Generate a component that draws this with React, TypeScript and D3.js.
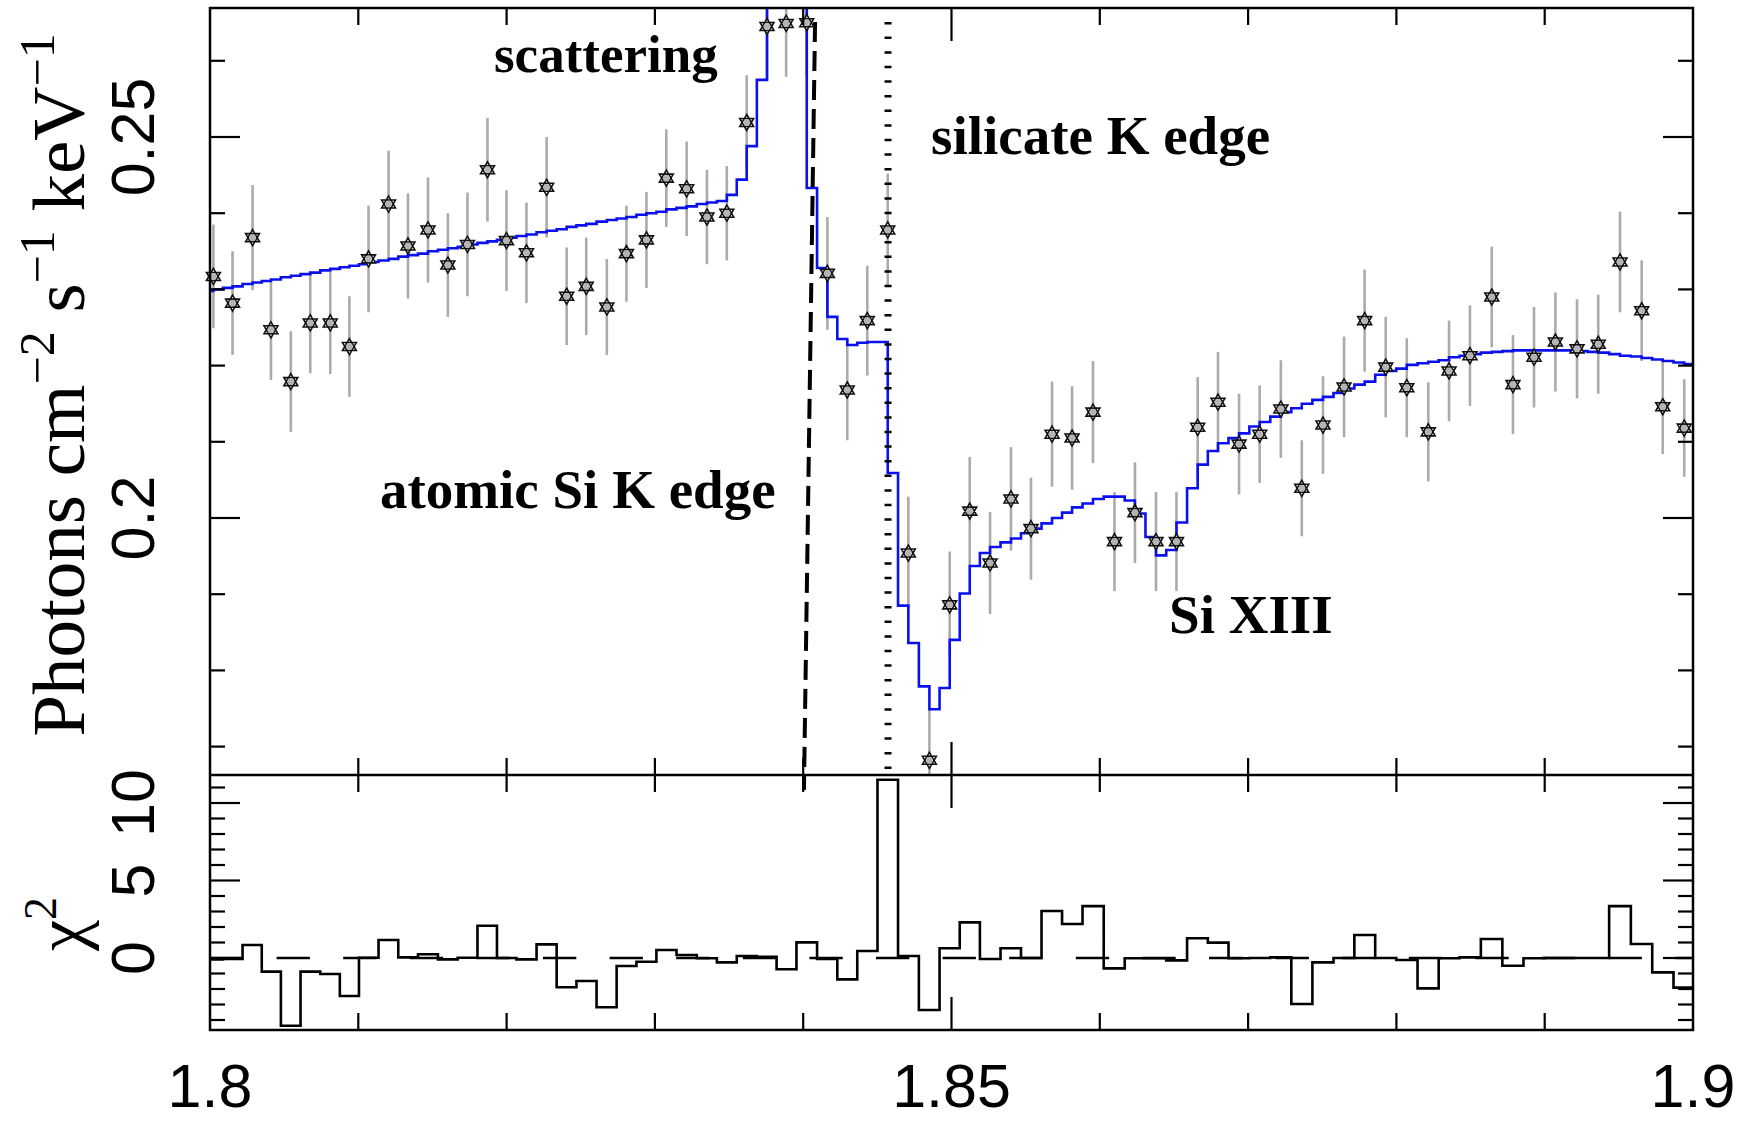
import React from "react";
import * as d3 from "d3";

// ---------- data ----------
const energy = [
  1.80023, 1.80152, 1.80287, 1.80411, 1.80545, 1.80676, 1.80811, 1.8094, 1.81069, 1.81204,
  1.81335, 1.8147, 1.81604, 1.81736, 1.81871, 1.81999, 1.82134, 1.8227, 1.82405, 1.82537,
  1.82676, 1.82808, 1.82943, 1.83077, 1.83214, 1.83351, 1.83485, 1.83619, 1.83756, 1.83885,
  1.84024, 1.84163, 1.84297, 1.84432, 1.8457, 1.84709, 1.84851, 1.84988, 1.85123, 1.8526,
  1.85401, 1.85536, 1.85678, 1.85813, 1.85954, 1.86099, 1.86237, 1.86379, 1.86517, 1.8666,
  1.86797, 1.86939, 1.87078, 1.87221, 1.87362, 1.87505, 1.87647, 1.87786, 1.87928, 1.8807,
  1.88215, 1.88355, 1.88496, 1.88643, 1.88786, 1.88928, 1.89072, 1.89218, 1.89361, 1.89508,
  1.89654, 1.89796, 1.89941,
];

const flux = [
  0.2317, 0.2282, 0.2368, 0.2247, 0.2179, 0.2256, 0.2256, 0.2225, 0.234, 0.2412,
  0.2357, 0.2378, 0.2332, 0.2359, 0.2457, 0.2364, 0.2348, 0.2434, 0.2291, 0.2304,
  0.2277, 0.2347, 0.2365, 0.2446, 0.2432, 0.2395, 0.24, 0.2519, 0.2645, 0.2649,
  0.265, 0.2321, 0.2168, 0.2259, 0.2378, 0.1954, 0.1682, 0.1886, 0.2009, 0.1941,
  0.2025, 0.1986, 0.211, 0.2105, 0.2139, 0.1969, 0.2007, 0.1969, 0.1969, 0.2119,
  0.2152, 0.2097, 0.211, 0.2143, 0.2039, 0.2122, 0.2172, 0.2259, 0.2198, 0.2171,
  0.2113, 0.2193, 0.2213, 0.229, 0.2175, 0.2211, 0.2231, 0.2222, 0.2228, 0.2336,
  0.2272, 0.2146, 0.2118,
];

const fluxErr = [
  0.0068, 0.0068, 0.0069, 0.0066, 0.0066, 0.0066, 0.0067, 0.0066, 0.007, 0.007,
  0.0069, 0.0069, 0.0068, 0.0068, 0.0068, 0.0066, 0.0066, 0.0066, 0.0064, 0.0064,
  0.0063, 0.0063, 0.0063, 0.0064, 0.0062, 0.0062, 0.0062, 0.0062, 0.007, 0.007,
  0.007, 0.0074, 0.0066, 0.0072, 0.0074, 0.0074, 0.0068, 0.007, 0.0071, 0.0067,
  0.0068, 0.0067, 0.0069, 0.0068, 0.0067, 0.0065, 0.0066, 0.0065, 0.0065, 0.0066,
  0.0066, 0.0066, 0.0064, 0.0064, 0.0063, 0.0064, 0.0066, 0.0067, 0.0066, 0.0065,
  0.0065, 0.0066, 0.0066, 0.0066, 0.0065, 0.0066, 0.0065, 0.0065, 0.0065, 0.0066,
  0.0066, 0.0062, 0.0064,
];

// model value in the lower / upper half of each data bin
const modelLo = [
  0.2298, 0.2302, 0.2307, 0.2311, 0.2316, 0.232, 0.2325, 0.2329, 0.2333, 0.2338,
  0.2343, 0.2347, 0.2352, 0.2356, 0.2361, 0.2365, 0.237, 0.2375, 0.2379, 0.2384,
  0.2389, 0.2393, 0.2398, 0.2402, 0.2407, 0.2412, 0.2416, 0.2444, 0.2575, 0.29,
  0.285, 0.2328, 0.2235, 0.223, 0.2231, 0.1885, 0.1779, 0.1777, 0.1901, 0.1954,
  0.1968, 0.198, 0.1993, 0.2007, 0.2019, 0.2028, 0.2023, 0.1975, 0.1958, 0.2039,
  0.2088, 0.2105, 0.212, 0.2133, 0.2144, 0.2155, 0.2164, 0.2175, 0.2188, 0.2196,
  0.2203, 0.2207, 0.2213, 0.2217, 0.2219, 0.222, 0.222, 0.222, 0.2218, 0.2215,
  0.2212, 0.2208, 0.2204,
];
const modelHi = [
  0.23, 0.2304, 0.2309, 0.2313, 0.2318, 0.2322, 0.2327, 0.2331, 0.2336, 0.234,
  0.2345, 0.235, 0.2354, 0.2359, 0.2363, 0.2368, 0.2372, 0.2377, 0.2382, 0.2386,
  0.2391, 0.2395, 0.24, 0.2405, 0.2409, 0.2414, 0.2424, 0.2488, 0.285, 0.29,
  0.2433, 0.2264, 0.2227, 0.2231, 0.2059, 0.1836, 0.1749, 0.184, 0.1937, 0.1962,
  0.1973, 0.1986, 0.2, 0.2014, 0.2025, 0.2028, 0.2006, 0.1951, 0.1994, 0.207,
  0.2098, 0.2111, 0.2126, 0.2139, 0.215, 0.2159, 0.217, 0.2179, 0.2193, 0.2201,
  0.2205, 0.2211, 0.2215, 0.2218, 0.222, 0.222, 0.222, 0.2219, 0.2217, 0.2213,
  0.221, 0.2206, 0.2202,
];

// signed chi^2 residual per bin
const chi = [
  -0.1, -0.06, 0.84, -0.88, -4.37, -0.88, -1.03, -2.45, 0.02, 1.16,
  0.04, 0.24, -0.09, 0.02, 2.08, 0.0, -0.09, 0.88, -1.89, -1.48,
  -3.18, -0.52, -0.24, 0.52, 0.19, -0.02, -0.28, 0.13, 0.08, -0.73,
  1.01, -0.06, -1.38, 0.45, 11.5, 0.13, -3.35, 0.63, 2.3, -0.06,
  0.63, 0.0, 3.03, 2.19, 3.35, -0.67, -0.02, -0.02, -0.15, 1.27,
  0.99, -0.02, 0.0, 0.04, -2.97, -0.28, 0.0, 1.48, 0.0, -0.13,
  -1.96, -0.02, 0.04, 1.23, -0.5, -0.02, 0.0, 0.0, 0.0, 3.35,
  0.9, -0.93, -1.91,
];

const xDomain = [1.8, 1.9];
const xMinorTicks = [1.81, 1.82, 1.83, 1.84, 1.85, 1.86, 1.87, 1.88, 1.89];
const xMajorTicks = [1.85];
const xTickLabels = ["1.8", "1.85", "1.9"];

const yTopMinorTicks = [0.17, 0.18, 0.19, 0.2, 0.21, 0.22, 0.23, 0.24, 0.25, 0.26];
const yTopMajorTicks = [0.2, 0.25];
const yTopTickLabels = ["0.2", "0.25"];

const yBotMinorTicks = [-4, -3, -2, -1, 0, 1, 2, 3, 4, 5, 6, 7, 8, 9, 10, 11];
const yBotMajorTicks = [0, 5, 10];
const yBotTickLabels = ["0", "5", "10"];

// reference lines: atomic Si K edge (dashed) and silicate K edge (dotted)
const atomicEdgeLine = [
  [1.8408, 0.2651],
  [1.84005, 0.1643],
];
const silicateEdgeLine = [
  [1.84572, 0.2651],
  [1.84572, 0.1669],
];

const annotations = [
  { text: "scattering", e: 1.81915, v: 0.25853, size: 53 },
  { text: "silicate K edge", e: 1.84862, v: 0.24777, size: 55 },
  { text: "atomic Si K edge", e: 1.81146, v: 0.20131, size: 55 },
  { text: "Si XIII", e: 1.86467, v: 0.18491, size: 55 },
];

// ---------- layout ----------
const W = 1748;
const H = 1121;
const X0 = 210;
const X1 = 1693;
const TOP = 8;
const MID = 775;
const BOT = 1030;

const SANS = "'Liberation Sans', Arial, Helvetica, sans-serif";
const SERIF = "'Liberation Serif', 'Times New Roman', Times, serif";

function hexagram(cx: number, cy: number, r: number) {
  const tri = (a0: number) => {
    const p = d3.path();
    for (let k = 0; k < 3; k++) {
      const a = ((a0 + k * 120) * Math.PI) / 180;
      const px = cx + r * Math.cos(a);
      const py = cy + r * Math.sin(a);
      if (k === 0) p.moveTo(px, py);
      else p.lineTo(px, py);
    }
    p.closePath();
    return p.toString();
  };
  return tri(-90) + tri(90);
}

export default function App() {
  const x = d3.scaleLinear().domain(xDomain).range([X0, X1]);
  const yT = d3.scaleLinear().domain([0.2, 0.25]).range([518, 137]);
  const yB = d3.scaleLinear().domain([0, 10]).range([958, 803]);

  const n = energy.length;
  const edges: number[] = [energy[0] - (energy[1] - energy[0]) / 2];
  for (let i = 1; i < n; i++) edges.push((energy[i - 1] + energy[i]) / 2);
  edges.push(energy[n - 1] + (energy[n - 1] - energy[n - 2]) / 2);

  const modelPts: [number, number][] = [];
  for (let i = 0; i < n; i++) {
    modelPts.push([edges[i], modelLo[i]]);
    modelPts.push([energy[i], modelHi[i]]);
  }
  modelPts.push([edges[n], modelHi[n - 1]]);
  const modelPath = d3
    .line<[number, number]>()
    .x((d) => x(d[0]))
    .y((d) => yT(d[1]))
    .curve(d3.curveStepAfter)(modelPts) as string;

  const chiPts: [number, number][] = chi.map((c, i) => [edges[i], c]);
  chiPts.push([edges[n], chi[n - 1]]);
  const chiPath = d3
    .line<[number, number]>()
    .x((d) => x(d[0]))
    .y((d) => yB(d[1]))
    .curve(d3.curveStepAfter)(chiPts) as string;

  const lineGen = d3
    .line<number[]>()
    .x((d) => x(d[0]))
    .y((d) => yT(d[1]));

  const axisStroke = { stroke: "#000", strokeWidth: 2.5, fill: "none" };
  const tickStroke = { stroke: "#000", strokeWidth: 2.2 };

  const labelX = 154;

  return (
    <svg
      width={W}
      height={H}
      viewBox={`0 0 ${W} ${H}`}
      style={{ position: "absolute", left: 0, top: 0, background: "#fff" }}
    >
      <defs>
        <clipPath id="clipTop">
          <rect x={X0} y={TOP} width={X1 - X0} height={MID - TOP} />
        </clipPath>
        <clipPath id="clipBot">
          <rect x={X0} y={MID} width={X1 - X0} height={BOT - MID} />
        </clipPath>
      </defs>
      <rect x={0} y={0} width={W} height={H} fill="#fff" />

      {/* ---------- upper panel ---------- */}
      <g clipPath="url(#clipTop)">
        {energy.map((e, i) => (
          <line
            key={"eb" + i}
            x1={x(e)}
            x2={x(e)}
            y1={yT(flux[i] + fluxErr[i])}
            y2={yT(flux[i] - fluxErr[i])}
            stroke="#ababab"
            strokeWidth={2.6}
          />
        ))}
        <path d={modelPath} fill="none" stroke="#0a10ee" strokeWidth={2.6} />
      </g>

      {/* edge lines */}
      <path
        d={lineGen(atomicEdgeLine) as string}
        stroke="#000"
        strokeWidth={4}
        strokeDasharray="20 9"
        fill="none"
      />
      <path
        d={lineGen(silicateEdgeLine) as string}
        stroke="#000"
        strokeWidth={7}
        strokeDasharray="2.5 12.1"
        fill="none"
      />

      {/* data markers */}
      {energy.map((e, i) => (
        <g key={"st" + i}>
          <path
            d={hexagram(x(e), yT(flux[i]), 8)}
            fill="#ffffff"
            stroke="#111"
            strokeWidth={1.6}
            strokeLinejoin="miter"
          />
          <circle cx={x(e)} cy={yT(flux[i])} r={3.3} fill="#b4b4b4" />
        </g>
      ))}

      {/* annotations */}
      {annotations.map((a) => (
        <text
          key={a.text}
          x={x(a.e)}
          y={yT(a.v)}
          fontFamily={SERIF}
          fontWeight="bold"
          fontSize={a.size}
          fill="#000"
        >
          {a.text}
        </text>
      ))}

      {/* ---------- lower panel ---------- */}
      <line
        x1={X0}
        x2={X1}
        y1={yB(0)}
        y2={yB(0)}
        stroke="#000"
        strokeWidth={2.4}
        strokeDasharray="33.3 33.3"
      />
      <g clipPath="url(#clipBot)">
        <path d={chiPath} fill="none" stroke="#000" strokeWidth={2.6} />
      </g>

      {/* ---------- frames & ticks ---------- */}
      <rect x={X0} y={TOP} width={X1 - X0} height={BOT - TOP} {...axisStroke} />
      <line x1={X0} x2={X1} y1={MID} y2={MID} stroke="#000" strokeWidth={2.5} />

      {/* x ticks */}
      {xMinorTicks.map((t) => {
        const L = xMajorTicks.includes(t) ? 33 : 17;
        const xx = x(t);
        return (
          <g key={"xt" + t}>
            <line x1={xx} x2={xx} y1={TOP} y2={TOP + L} {...tickStroke} />
            <line x1={xx} x2={xx} y1={MID - L} y2={MID + L} {...tickStroke} />
            <line x1={xx} x2={xx} y1={BOT - L} y2={BOT} {...tickStroke} />
          </g>
        );
      })}

      {/* y ticks upper */}
      {yTopMinorTicks.map((t) => {
        const L = yTopMajorTicks.includes(t) ? 30 : 15;
        const yy = yT(t);
        return (
          <g key={"yt" + t}>
            <line x1={X0} x2={X0 + L} y1={yy} y2={yy} {...tickStroke} />
            <line x1={X1 - L} x2={X1} y1={yy} y2={yy} {...tickStroke} />
          </g>
        );
      })}
      {/* y ticks lower */}
      {yBotMinorTicks.map((t) => {
        const L = yBotMajorTicks.includes(t) ? 30 : 15;
        const yy = yB(t);
        return (
          <g key={"yb" + t}>
            <line x1={X0} x2={X0 + L} y1={yy} y2={yy} {...tickStroke} />
            <line x1={X1 - L} x2={X1} y1={yy} y2={yy} {...tickStroke} />
          </g>
        );
      })}

      {/* tick labels */}
      {xTickLabels.map((s) => (
        <text
          key={"xl" + s}
          x={x(+s)}
          y={1107}
          textAnchor="middle"
          fontFamily={SANS}
          fontSize={61}
          fill="#000"
        >
          {s}
        </text>
      ))}
      {yTopTickLabels.map((s) => (
        <text
          key={"ytl" + s}
          transform={`translate(${labelX},${yT(+s)}) rotate(-90)`}
          textAnchor="middle"
          fontFamily={SANS}
          fontSize={61}
          fill="#000"
        >
          {s}
        </text>
      ))}
      {yBotTickLabels.map((s) => (
        <text
          key={"ybl" + s}
          transform={`translate(${labelX},${yB(+s)}) rotate(-90)`}
          textAnchor="middle"
          fontFamily={SANS}
          fontSize={61}
          fill="#000"
        >
          {s}
        </text>
      ))}

      {/* axis titles */}
      <text
        transform={`translate(84,385) rotate(-90)`}
        textAnchor="middle"
        fontFamily={SERIF}
        fontSize={75}
        fill="#000"
      >
        Photons cm
        <tspan dy={-30} fontSize={50}>
          −2
        </tspan>
        <tspan dy={30}> s</tspan>
        <tspan dy={-30} fontSize={50}>
          −1
        </tspan>
        <tspan dy={30}> keV</tspan>
        <tspan dy={-30} fontSize={50}>
          −1
        </tspan>
      </text>
      <text
        transform={`translate(84,924) rotate(-90)`}
        textAnchor="middle"
        fontFamily={SERIF}
        fontSize={70}
        fill="#000"
      >
        χ
        <tspan dy={-28} fontSize={46}>
          2
        </tspan>
      </text>
    </svg>
  );
}
